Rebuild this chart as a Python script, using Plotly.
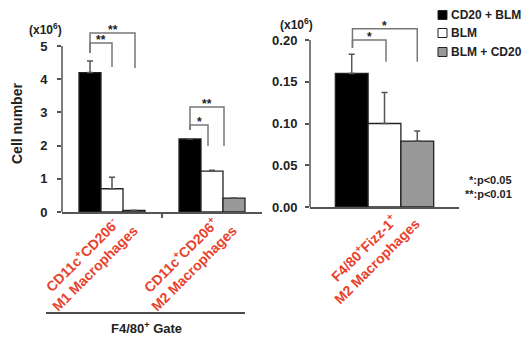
import plotly.graph_objects as go

W, H = 525, 340

# ---------------- data ----------------
series_names = ["CD20 + BLM", "BLM", "BLM + CD20"]
series_colors = ["#000000", "#ffffff", "#999999"]

left_categories = ["CD11c<sup>+</sup>CD206<sup>-</sup><br>M1 Macrophages",
                   "CD11c<sup>+</sup>CD206<sup>+</sup><br>M2 Macrophages"]
left_values = [[4.2, 2.2], [0.7, 1.23], [0.05, 0.42]]
left_errors = [[0.35, 0.0], [0.35, 0.03], [0.0, 0.0]]

right_categories = ["F4/80<sup>+</sup>Fizz-1<sup>+</sup><br>M2 Macrophages"]
right_values = [[0.16], [0.10], [0.079]]
right_errors = [[0.023], [0.037], [0.012]]

left_ticks = [0, 1, 2, 3, 4, 5]
right_ticks = [0.00, 0.05, 0.10, 0.15, 0.20]

# significance brackets: (axis, x_left, x_right, y_bar, y_left_end, y_right_end, label)
brackets = [
    ("", -0.22, 0.0, 5.09, 4.79, 4.37, "**"),
    ("", -0.22, 0.23, 5.39, 4.79, 4.34, "**"),
    ("", 0.78, 0.96, 2.62, 2.47, 1.99, "*"),
    ("", 0.78, 1.12, 3.16, 2.47, 1.99, "**"),
    ("2", -0.215, 0.01, 0.200, 0.1906, 0.174, "*"),
    ("2", -0.215, 0.22, 0.2134, 0.1906, 0.174, "*"),
]

FONT = "Arial, Liberation Sans, sans-serif"
RED = "#e8412c"
AXC = "#555555"
TXT = "#222222"

fig = go.Figure()

for i, name in enumerate(series_names):
    fig.add_trace(go.Bar(
        x=list(range(len(left_categories))), y=left_values[i], name=name,
        marker=dict(color=series_colors[i], line=dict(color="#222", width=1.3)),
        error_y=dict(type="data", array=left_errors[i], arrayminus=[0] * len(left_errors[i]),
                     symmetric=False, color="#555", thickness=1.5, width=3),
        xaxis="x", yaxis="y", offsetgroup=str(i), showlegend=False))
    fig.add_trace(go.Bar(
        x=list(range(len(right_categories))), y=right_values[i], name=name,
        marker=dict(color=series_colors[i], line=dict(color="#222", width=1.3)),
        error_y=dict(type="data", array=right_errors[i], arrayminus=[0] * len(right_errors[i]),
                     symmetric=False, color="#555", thickness=1.5, width=3),
        xaxis="x2", yaxis="y2", offsetgroup=str(i), showlegend=False))

annotations = []
for ax, x0, x1, yb, yl, yr, lab in brackets:
    fig.add_trace(go.Scatter(
        x=[x0, x0, x1, x1], y=[yl, yb, yb, yr], mode="lines",
        line=dict(color="#777", width=1.5), cliponaxis=False,
        xaxis="x" + ax, yaxis="y" + ax, showlegend=False, hoverinfo="skip"))
    annotations.append(dict(xref="x" + ax, yref="y" + ax, x=(x0 + x1) / 2, y=yb, text=lab,
                            showarrow=False, xanchor="center", yanchor="middle", yshift=3,
                            font=dict(size=12, weight="bold", color=TXT)))


def px(x):
    return x / W


def py(y):
    return 1 - y / H


axis_common = dict(showgrid=False, zeroline=False, linecolor=AXC, linewidth=1.5,
                   ticks="outside", ticklen=4, tickcolor=AXC, tickwidth=1.5, automargin=False)

# left: 0 at y=212px, 5 at y=46px  -> 5.5 at ~29.4px
# right: 0 at y=207px, 0.20 at y=40px -> 0.22 at ~23.3px
fig.update_layout(
    template="none",
    width=W, height=H, margin=dict(l=0, r=0, t=0, b=0, pad=0), autosize=False,
    paper_bgcolor="white", plot_bgcolor="white",
    barmode="group", bargap=0.34, bargroupgap=0,
    font=dict(family=FONT, color=TXT, size=12, weight="bold"),
    xaxis=dict(domain=[px(62), px(262)], range=[-0.5, 1.5], tickvals=[0.5], showline=True,
               showticklabels=False, anchor="y", **axis_common),
    yaxis=dict(domain=[py(212), py(29.4)], range=[0, 5.5], tickvals=left_ticks, showline=False,
               ticklabelstandoff=7,
               tickfont=dict(size=13, weight="bold", family=FONT, color=TXT), anchor="x", **axis_common),
    xaxis2=dict(domain=[px(310), px(459)], range=[-0.5, 0.5], tickvals=[], showline=True,
                showticklabels=False, anchor="y2", **axis_common),
    yaxis2=dict(domain=[py(207), py(23.3)], range=[0, 0.22], tickvals=right_ticks, showline=False,
                ticklabelstandoff=5,
                tickformat=".2f", tickfont=dict(size=13, weight="bold", family=FONT, color=TXT),
                anchor="x2", **axis_common),
)

shapes = []
# y axis lines stopping at the top tick
shapes.append(dict(type="line", xref="x domain", yref="y", x0=0, x1=0, y0=0, y1=left_ticks[-1],
                   line=dict(color=AXC, width=1.5)))
shapes.append(dict(type="line", xref="x2 domain", yref="y2", x0=0, x1=0, y0=0, y1=right_ticks[-1],
                   line=dict(color=AXC, width=1.5)))

# category labels (rotated, red)
cat_pos = [(88, 261), (187, 261)]
for cat, (cx, cy) in zip(left_categories, cat_pos):
    annotations.append(dict(xref="paper", yref="paper", x=px(cx), y=py(cy), text=cat,
                            textangle=-45, showarrow=False, align="center",
                            xanchor="center", yanchor="middle",
                            font=dict(size=14, color=RED, weight="bold")))
annotations.append(dict(xref="paper", yref="paper", x=px(370), y=py(254), text=right_categories[0],
                        textangle=-45, showarrow=False, align="center",
                        xanchor="center", yanchor="middle",
                        font=dict(size=14, color=RED, weight="bold")))

# gate line and label
shapes.append(dict(type="line", xref="paper", yref="paper", x0=px(46), x1=px(245),
                   y0=py(313), y1=py(313), line=dict(color="#111", width=1.5)))
annotations.append(dict(xref="paper", yref="paper", x=px(146), y=py(328),
                        text="F4/80<sup>+</sup> Gate", showarrow=False,
                        xanchor="center", yanchor="middle",
                        font=dict(size=13, weight="bold", color=TXT)))

# axis titles / units
annotations.append(dict(xref="paper", yref="paper", x=px(17), y=py(124), text="Cell number",
                        textangle=-90, showarrow=False, xanchor="center", yanchor="middle",
                        font=dict(size=14, weight="bold", color=TXT)))
annotations.append(dict(xref="paper", yref="paper", x=px(45), y=py(29), text="(x10<sup>6</sup>)",
                        showarrow=False, xanchor="center", yanchor="middle",
                        font=dict(size=12, weight="bold", color=TXT)))
annotations.append(dict(xref="paper", yref="paper", x=px(296), y=py(24), text="(x10<sup>6</sup>)",
                        showarrow=False, xanchor="center", yanchor="middle",
                        font=dict(size=12, weight="bold", color=TXT)))

# legend (manual)
leg_y = [15, 33, 52]
for name, col, yy in zip(series_names, series_colors, leg_y):
    shapes.append(dict(type="rect", xref="paper", yref="paper", x0=px(438), x1=px(447),
                       y0=py(yy + 4.5), y1=py(yy - 4.5), fillcolor=col,
                       line=dict(color="#222", width=1)))
    annotations.append(dict(xref="paper", yref="paper", x=px(449), y=py(yy), text=name,
                            xanchor="left", yanchor="middle", showarrow=False,
                            font=dict(size=12, weight="bold", color=TXT)))

# p-value notes
annotations.append(dict(xref="paper", yref="paper", x=px(514), y=py(180), text="*:p<0.05",
                        xanchor="right", yanchor="middle", showarrow=False,
                        font=dict(size=11, weight="bold", color=TXT)))
annotations.append(dict(xref="paper", yref="paper", x=px(514), y=py(194), text="**:p<0.01",
                        xanchor="right", yanchor="middle", showarrow=False,
                        font=dict(size=11, weight="bold", color=TXT)))

fig.update_layout(annotations=annotations, shapes=shapes)
fig.write_html("out.html", config={"displayModeBar": False},
               post_script="document.body.style.margin='0px';")
